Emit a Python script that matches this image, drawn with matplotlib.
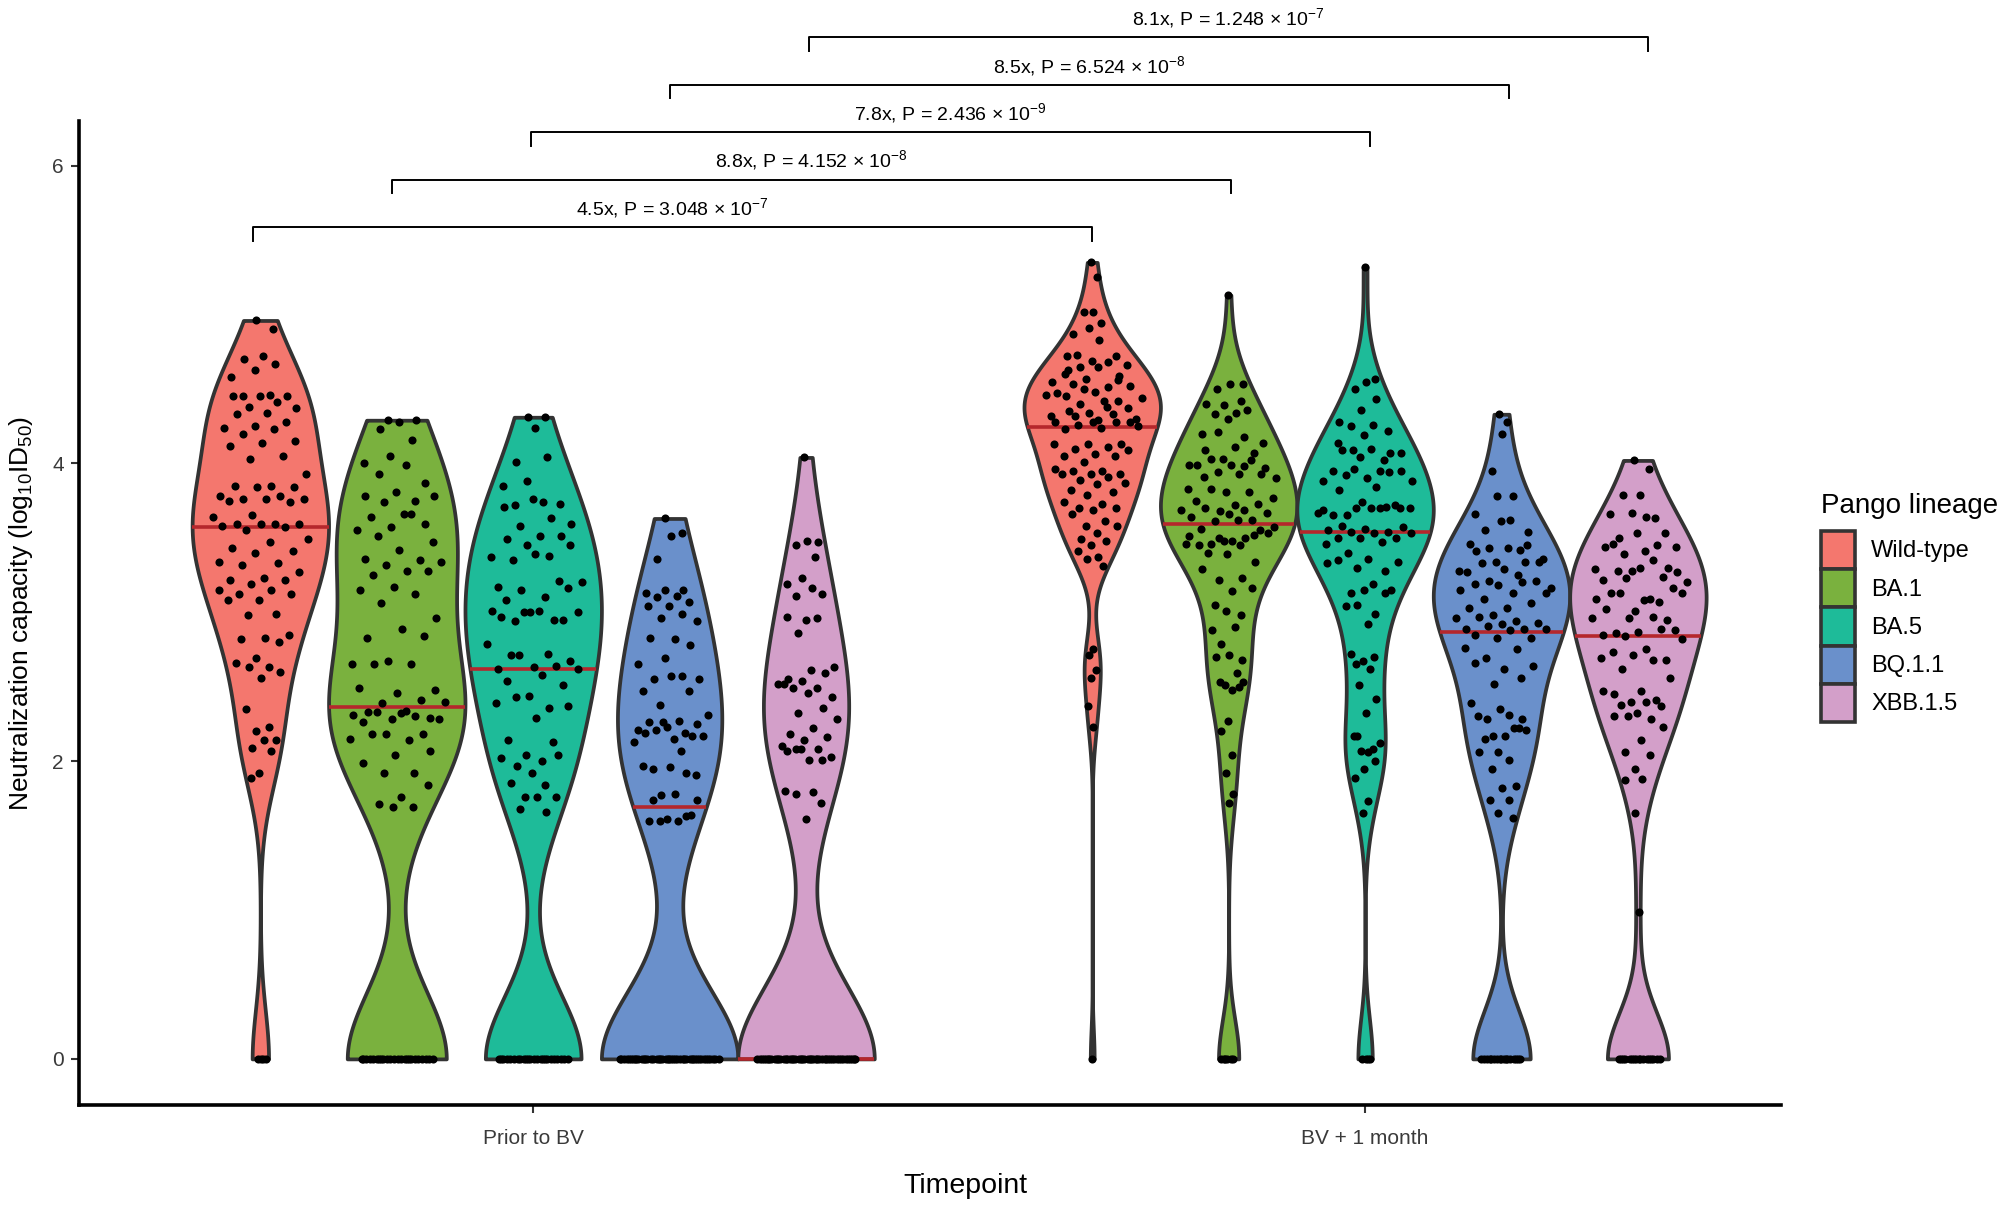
import numpy as np
import matplotlib
matplotlib.use('Agg')
import matplotlib.pyplot as plt
from matplotlib.mlab import GaussianKDE
from matplotlib.patches import Patch

plt.rcParams['font.family'] = ['Liberation Sans', 'DejaVu Sans']
plt.rcParams['mathtext.default'] = 'regular'

# ---- data (log10 ID50 per individual, zeros listed as counts) ----
lineages = ['Wild-type', 'BA.1', 'BA.5', 'BQ.1.1', 'XBB.1.5']
timepoints = ['Prior to BV', 'BV + 1 month']
colors = ['#F4776E', '#7AB13E', '#1EBB99', '#6A90CB', '#D39FC9']

wt_prior = [4.96, 4.90, 4.72, 4.70, 4.67, 4.63, 4.58, 4.46, 4.45, 4.45, 4.45, 4.45, 4.41, 4.38,
            4.37, 4.34, 4.33, 4.28, 4.25, 4.24, 4.23, 4.20, 4.15, 4.14, 4.12, 4.05, 4.03, 3.93,
            3.85, 3.85, 3.84, 3.84, 3.78, 3.78, 3.76, 3.76, 3.76, 3.75, 3.74, 3.65, 3.64, 3.59,
            3.59, 3.59, 3.59, 3.58, 3.57, 3.55, 3.49, 3.47, 3.43, 3.41, 3.40, 3.34, 3.33, 3.32,
            3.27, 3.23, 3.22, 3.22, 3.19, 3.15, 3.15, 3.12, 3.12, 3.08, 3.08, 2.99, 2.98, 2.85,
            2.83, 2.82, 2.80, 2.69, 2.66, 2.63, 2.63, 2.60, 2.56, 2.35, 2.23, 2.20, 2.14, 2.14,
            2.09, 2.07, 1.92, 1.89]
ba1_prior = [4.29, 4.29, 4.28, 4.23, 4.16, 4.05, 4.00, 3.99, 3.93, 3.87, 3.81, 3.78, 3.75, 3.74,
             3.78, 3.66, 3.64, 3.59, 3.57, 3.55, 3.66, 3.51, 3.47, 3.42, 3.36, 3.35, 3.32, 3.34,
             3.28, 3.25, 3.28, 3.17, 3.15, 3.12, 3.06, 2.96, 2.89, 2.83, 2.84, 2.67, 2.65, 2.65,
             2.65, 2.48, 2.46, 2.49, 2.41, 2.39, 2.40, 2.34, 2.33, 2.29, 2.28, 2.31, 2.30, 2.33,
             2.28, 2.32, 2.26, 2.18, 2.18, 2.15, 2.14, 2.18, 2.07, 2.04, 1.99, 1.92, 1.92, 1.84,
             1.76, 1.71, 1.69, 1.69]
ba5_prior = [4.31, 4.31, 4.24, 4.01, 4.04, 3.88, 3.85, 3.74, 3.72, 3.73, 3.76, 3.71, 3.63, 3.58,
             3.59, 3.51, 3.49, 3.51, 3.45, 3.37, 3.38, 3.35, 3.45, 3.39, 3.17, 3.21, 3.15, 3.20,
             3.10, 3.08, 3.16, 3.00, 3.01, 2.95, 2.94, 3.00, 3.01, 2.97, 2.95, 3.00, 2.79, 2.72,
             2.71, 2.67, 2.63, 2.62, 2.64, 2.71, 2.62, 2.58, 2.54, 2.51, 2.44, 2.39, 2.36, 2.43,
             2.37, 2.29, 2.14, 2.13, 2.04, 2.02, 2.00, 1.97, 2.04, 1.92, 1.85, 1.84, 1.76, 1.76,
             1.76, 1.68, 1.66]
bq_prior = [3.63, 3.53, 3.51, 3.36, 3.15, 3.15, 3.13, 3.11, 3.10, 3.07, 3.04, 3.04, 2.99, 2.96,
            2.94, 2.82, 2.83, 2.78, 2.69, 2.65, 2.57, 2.55, 2.55, 2.57, 2.47, 2.47, 2.38, 2.31,
            2.27, 2.26, 2.25, 2.23, 2.21, 2.19, 2.21, 2.17, 2.15, 2.19, 2.17, 2.26, 2.13, 2.07,
            1.95, 1.91, 1.96, 1.97, 1.92, 1.77, 1.74, 1.78, 1.74, 1.63, 1.61, 1.60, 1.60, 1.60,
            1.64]
xbb_prior = [4.04, 3.47, 3.48, 3.45, 3.37, 3.23, 3.19, 3.16, 3.11, 3.12, 2.95, 2.97, 2.96, 2.86,
             2.63, 2.61, 2.55, 2.59, 2.54, 2.52, 2.49, 2.49, 2.43, 2.46, 2.52, 2.36, 2.32, 2.28,
             2.22, 2.18, 2.16, 2.14, 2.10, 2.08, 2.08, 2.03, 2.01, 2.07, 2.01, 2.08, 1.80, 1.79,
             1.78, 1.72, 1.61]

wt_bv = [5.35, 5.25, 5.02, 5.02, 4.94, 4.91, 4.87, 4.83, 4.73, 4.72, 4.69, 4.72, 4.68, 4.65,
         4.66, 4.65, 4.63, 4.59, 4.57, 4.55, 4.51, 4.53, 4.52, 4.48, 4.47, 4.42, 4.40, 4.44,
         4.42, 4.45, 4.37, 4.34, 4.32, 4.33, 4.32, 4.30, 4.29, 4.60, 4.56, 4.50, 4.46, 4.38,
         4.35, 4.28, 4.28, 4.28, 4.28, 4.26, 4.25, 4.24, 4.23, 4.13, 4.13, 4.13, 4.11, 4.10,
         4.09, 4.06, 4.05, 4.05, 4.01, 3.96, 3.95, 3.95, 3.93, 3.93, 3.93, 3.91, 3.89, 3.87,
         3.86, 3.82, 3.81, 3.79, 3.74, 3.73, 3.70, 3.70, 3.69, 3.66, 3.61, 3.58, 3.58, 3.53,
         3.49, 3.48, 3.45, 3.41, 3.37, 3.36, 3.31, 2.75, 2.71, 2.61, 2.56, 2.37, 2.23]
ba1_bv = [5.13, 4.53, 4.53, 4.50, 4.42, 4.39, 4.40, 4.34, 4.33, 4.36, 4.30, 4.20, 4.18, 4.21,
          4.14, 4.11, 4.09, 4.07, 4.03, 3.99, 3.98, 4.03, 3.97, 3.99, 3.99, 4.02, 3.94, 3.90,
          3.93, 3.91, 3.93, 3.81, 3.83, 3.81, 3.83, 3.77, 3.72, 3.75, 3.73, 3.68, 3.69, 3.69,
          3.70, 3.67, 3.66, 3.64, 3.62, 3.61, 3.57, 3.62, 3.56, 3.55, 3.48, 3.51, 3.50, 3.46,
          3.53, 3.48, 3.45, 3.52, 3.50, 3.46, 3.45, 3.40, 3.34, 3.39, 3.29, 3.23, 3.22, 3.16,
          3.14, 3.05, 2.98, 3.01, 2.88, 2.90, 2.79, 2.68, 2.71, 2.70, 2.59, 2.51, 2.53, 2.48,
          2.53, 2.50, 2.27, 2.20, 2.04, 1.92, 1.78, 1.72]
ba5_bv = [5.32, 4.57, 4.55, 4.50, 4.43, 4.36, 4.28, 4.26, 4.25, 4.22, 4.19, 4.14, 4.02, 4.09,
          4.07, 4.10, 4.09, 4.07, 4.04, 3.88, 3.95, 3.92, 3.95, 3.90, 3.95, 3.94, 3.96, 3.88,
          3.84, 3.82, 3.70, 3.74, 3.69, 3.71, 3.65, 3.70, 3.70, 3.65, 3.72, 3.70, 3.67, 3.70,
          3.58, 3.57, 3.56, 3.55, 3.54, 3.54, 3.53, 3.53, 3.50, 3.50, 3.50, 3.46, 3.47, 3.40,
          3.34, 3.36, 3.35, 3.28, 3.30, 3.33, 3.19, 3.13, 3.13, 3.15, 3.04, 2.99, 3.05, 3.15,
          2.92, 2.65, 2.70, 2.67, 2.72, 2.62, 2.51, 2.42, 2.32, 2.17, 2.08, 2.07, 2.12, 2.06,
          2.17, 2.00, 1.95, 1.89, 1.73, 1.65]
bq_bv = [4.33, 4.28, 4.20, 3.95, 3.78, 3.78, 3.66, 3.62, 3.55, 3.54, 3.61, 3.46, 3.42, 3.43,
         3.36, 3.43, 3.41, 3.45, 3.34, 3.28, 3.25, 3.33, 3.34, 3.29, 3.27, 3.34, 3.21, 3.16,
         3.13, 3.19, 3.21, 3.18, 3.15, 3.20, 3.09, 3.13, 3.03, 3.03, 3.06, 2.98, 2.96, 2.94,
         2.97, 2.93, 2.92, 2.89, 2.89, 2.91, 2.89, 2.88, 2.85, 2.83, 2.83, 2.76, 2.75, 2.69,
         2.64, 2.62, 2.66, 2.56, 2.52, 2.39, 2.31, 2.28, 2.28, 2.35, 2.30, 2.22, 2.17, 2.21,
         2.17, 2.15, 2.22, 2.06, 2.06, 2.01, 1.95, 1.83, 1.82, 1.74, 1.74, 1.65, 1.62]
xbb_bv = [4.02, 3.96, 3.79, 3.79, 3.63, 3.67, 3.66, 3.64, 3.50, 3.53, 3.53, 3.44, 3.45, 3.39,
          3.44, 3.41, 3.46, 3.30, 3.28, 3.29, 3.35, 3.28, 3.27, 3.30, 3.22, 3.24, 3.23, 3.20,
          3.09, 3.13, 3.16, 3.01, 3.09, 3.07, 3.13, 3.13, 3.08, 3.02, 2.95, 2.96, 2.96, 2.97,
          2.86, 2.88, 2.87, 2.85, 2.89, 2.84, 2.82, 2.75, 2.73, 2.68, 2.71, 2.69, 2.68, 2.62,
          2.56, 2.47, 2.45, 2.41, 2.40, 2.47, 2.40, 2.38, 2.37, 2.32, 2.30, 2.28, 2.30, 2.23,
          2.14, 2.06, 2.04, 1.95, 1.87, 1.88, 1.65, 0.99]

# number of individuals with undetectable neutralization (log10 ID50 = 0)
zeros_prior = [4, 24, 24, 45, 47]
zeros_bv = [1, 6, 4, 17, 17]

fold_changes = ['4.5x', '8.8x', '7.8x', '8.5x', '8.1x']
p_mantissa = ['3.048', '4.152', '2.436', '6.524', '1.248']
p_exponent = ['-7', '-8', '-9', '-8', '-7']

groups = [[wt_prior, ba1_prior, ba5_prior, bq_prior, xbb_prior],
          [wt_bv, ba1_bv, ba5_bv, bq_bv, xbb_bv]]
zero_counts = [zeros_prior, zeros_bv]


def nrd0(kde):
    # R's default bandwidth (bw.nrd0), expressed as factor of the sd
    x = kde.dataset.ravel()
    sd = x.std(ddof=1)
    q75, q25 = np.percentile(x, [75, 25])
    lo = min(sd, (q75 - q25) / 1.34)
    if lo <= 0:
        lo = sd
    return 0.9 * lo * len(x) ** -0.2 / sd


fig = plt.figure(figsize=(20, 12.11), dpi=100)
ax = fig.add_axes([0.0395, 0.0875, 0.851, 0.8126])

width = 0.164
offsets = (np.arange(len(lineages)) - 2) * width

for t in range(2):
    for j in range(len(lineages)):
        data = np.array(groups[t][j] + [0.0] * zero_counts[t][j])
        pos = t + 1 + offsets[j]
        parts = ax.violinplot([data], positions=[pos], widths=width, showextrema=False,
                              bw_method=nrd0, points=400)
        body = parts['bodies'][0]
        body.set_facecolor(colors[j])
        body.set_edgecolor('#333333')
        body.set_linewidth(2.7)
        body.set_alpha(1)
        body.set_zorder(2)

        kde = GaussianKDE(data, bw_method=nrd0)
        grid = np.linspace(data.min(), data.max(), 400)
        dmax = kde.evaluate(grid).max()

        # median line spanning the violin at that height
        med = np.median(data)
        hw = kde.evaluate(np.array([med]))[0] / dmax * width / 2
        ax.plot([pos - hw, pos + hw], [med, med], color='#B5272C', lw=2.6, zorder=3,
                solid_capstyle='butt')

        # sina-style points: spread proportional to local density
        dens = kde.evaluate(data) / dmax
        u = ((np.arange(len(data)) * 0.6180339887 + 0.31) % 1) * 2 - 1
        ax.scatter(pos + u * dens * width / 2 * 0.74, data, s=34, color='black',
                   linewidths=0, zorder=4)

# comparison brackets
for k in range(len(lineages)):
    x0 = 1 + (k - 2) * 0.167 - 0.003
    x1 = 2 + (k - 2) * 0.167 + 0.006
    y = 5.585 + 0.319 * k
    ax.plot([x0, x0, x1, x1], [y - 0.09, y, y, y - 0.09], color='black', lw=1.4,
            clip_on=False, zorder=5)
    ax.text((x0 + x1) / 2, y + 0.05,
            f'{fold_changes[k]}, P = {p_mantissa[k]} × 10$^{{{p_exponent[k]}}}$',
            ha='center', va='bottom', fontsize=14, clip_on=False)

ax.set_xlim(0.454, 2.5)
ax.set_ylim(-0.31, 6.30)
ax.set_xticks([1, 2])
ax.set_xticklabels(timepoints)
ax.set_yticks([0, 2, 4, 6])
ax.tick_params(axis='both', labelsize=15, labelcolor='#3A3A3A', color='#333333',
               length=6, width=1.5)
ax.tick_params(axis='x', pad=11)
ax.tick_params(axis='y', pad=5)
for side in ['top', 'right']:
    ax.spines[side].set_visible(False)
for side in ['left', 'bottom']:
    ax.spines[side].set_linewidth(2.6)
    ax.spines[side].set_color('black')

ax.set_xlabel('Timepoint', fontsize=20.5)
ax.xaxis.set_label_coords(0.521, -0.069)
ax.set_ylabel('Neutralization capacity (log$_{10}$ID$_{50}$)', fontsize=19, labelpad=12)

handles = [Patch(facecolor=c, edgecolor='#333333', linewidth=2.6) for c in colors]
leg = ax.legend(handles, lineages, loc='upper left', bbox_to_anchor=(0.9105, 0.5925),
                bbox_transform=fig.transFigure, frameon=False, title='Pango lineage',
                fontsize=17, title_fontsize=20, handlelength=1.46, handleheight=2.12,
                labelspacing=0.0, handletextpad=0.66, borderpad=0, borderaxespad=0,
                alignment='left')
leg._legend_box.sep = 8

fig.savefig('out.png', dpi=100)
